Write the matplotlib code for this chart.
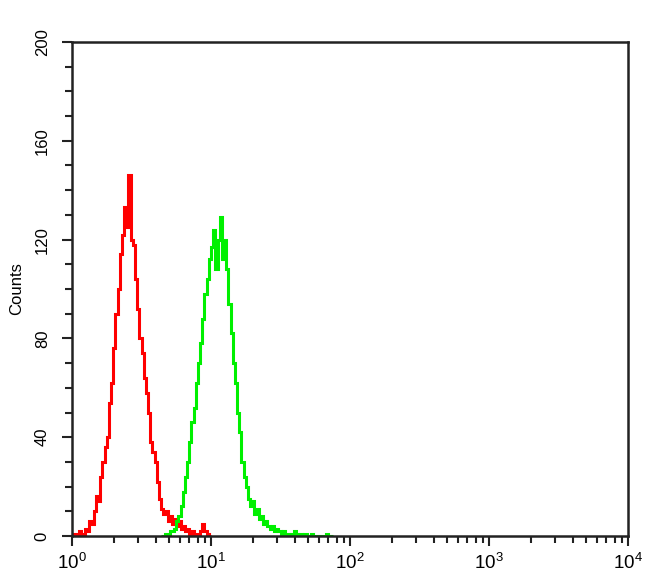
import numpy as np
import matplotlib
matplotlib.use("Agg")
import matplotlib.pyplot as plt
from matplotlib.ticker import LogLocator, MultipleLocator, LogFormatterSciNotation

plt.rcParams['font.family'] = ['Liberation Sans', 'DejaVu Sans']
plt.rcParams['mathtext.fontset'] = 'custom'
plt.rcParams['mathtext.rm'] = 'Liberation Sans'
plt.rcParams['mathtext.it'] = 'Liberation Sans'

# 256-channel log histogram, 64 channels per decade
channels_per_decade = 64

red_start = 0
red_counts = [0, 1, 0, 2, 0, 1, 3, 2, 6, 5, 10, 16, 14, 24, 30, 36,
              40, 54, 62, 76, 90, 100, 114, 122, 133, 125, 146, 120, 118, 104, 92, 80,
              74, 64, 58, 50, 38, 34, 30, 22, 15, 11, 9, 10, 6, 8, 5, 7,
              4, 6, 3, 4, 2, 3, 1, 2, 0, 1, 0, 2, 5, 2, 1, 0]

green_start = 41
green_counts = [0, 0, 1, 1, 2, 2, 3, 6, 8, 12, 18, 24, 30, 38, 46, 52,
                62, 70, 78, 88, 98, 104, 112, 117, 124, 108, 120, 129, 112, 120, 108, 94,
                82, 70, 62, 50, 42, 30, 24, 20, 15, 12, 14, 9, 11, 7, 8, 5,
                6, 4, 3, 4, 2, 3, 2, 1, 2, 1, 1, 0, 1, 2, 1, 0,
                1, 0, 1, 0, 0, 1, 0, 0, 0, 0, 0, 0, 1, 0, 0]

y_ticks = [0, 40, 80, 120, 160, 200]

fig = plt.figure(figsize=(6.5, 5.85), dpi=100)
ax = fig.add_axes([72/650, 1-536/585, 556/650, 494/585])

def edges(start, n):
    idx = np.arange(start, start + n + 1)
    return 10 ** (idx / channels_per_decade)

ax.stairs(red_counts, edges(red_start, len(red_counts)), color='#ff0000', lw=2.2, baseline=None)
ax.stairs(green_counts, edges(green_start, len(green_counts)), color='#00f000', lw=2.2, baseline=None)

ax.set_xscale('log')
ax.set_xlim(1, 1e4)
ax.set_ylim(0, 200)
ax.xaxis.set_major_locator(LogLocator(base=10, numticks=10))
ax.xaxis.set_minor_locator(LogLocator(base=10, subs=np.arange(2, 10), numticks=20))
ax.xaxis.set_major_formatter(LogFormatterSciNotation())
ax.set_yticks(y_ticks)
ax.yaxis.set_minor_locator(MultipleLocator(10))

for s in ax.spines.values():
    s.set_linewidth(1.8)
    s.set_color('#222222')

ax.tick_params(which='major', direction='out', length=7, width=1.5, color='#222222')
ax.tick_params(which='minor', direction='out', length=5, width=1.5, color='#222222')
ax.tick_params(axis='x', which='major', labelsize=13.5, pad=5)
ax.tick_params(axis='y', which='major', labelsize=12, pad=9)
for lab in ax.get_yticklabels():
    lab.set_rotation(90)
    lab.set_va('center')
ax.set_ylabel('Counts', fontsize=12, labelpad=8)

fig.savefig('out.png', dpi=100)
